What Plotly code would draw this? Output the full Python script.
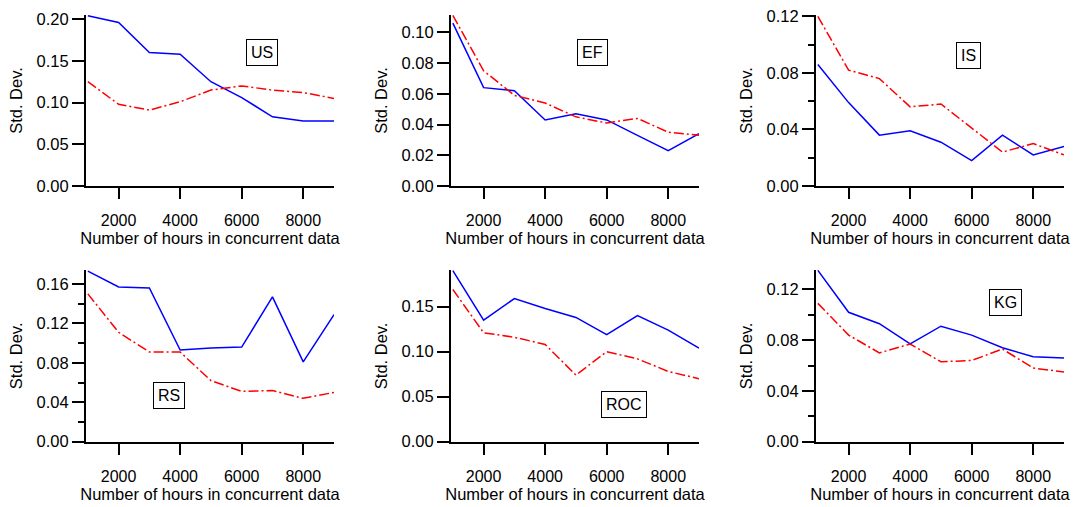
import plotly.graph_objects as go

hours = [1000, 2000, 3000, 4000, 5000, 6000, 7000, 8000, 9000]

us_blue = [0.204, 0.196, 0.160, 0.158, 0.125, 0.106, 0.083, 0.078, 0.078]
us_red = [0.125, 0.098, 0.091, 0.101, 0.115, 0.120, 0.115, 0.112, 0.105]

ef_blue = [0.106, 0.064, 0.062, 0.043, 0.047, 0.043, 0.033, 0.023, 0.034]
ef_red = [0.111, 0.075, 0.059, 0.054, 0.045, 0.041, 0.044, 0.035, 0.033]

is_blue = [0.086, 0.059, 0.036, 0.039, 0.031, 0.018, 0.036, 0.022, 0.028]
is_red = [0.120, 0.082, 0.076, 0.056, 0.058, 0.041, 0.024, 0.030, 0.022]

rs_blue = [0.173, 0.157, 0.156, 0.093, 0.095, 0.096, 0.147, 0.081, 0.129]
rs_red = [0.150, 0.111, 0.091, 0.091, 0.062, 0.051, 0.052, 0.044, 0.050]

roc_blue = [0.190, 0.135, 0.159, 0.148, 0.138, 0.119, 0.140, 0.124, 0.104]
roc_red = [0.169, 0.121, 0.116, 0.108, 0.074, 0.100, 0.092, 0.078, 0.070]

kg_blue = [0.135, 0.102, 0.093, 0.077, 0.091, 0.084, 0.074, 0.067, 0.066]
kg_red = [0.109, 0.084, 0.070, 0.077, 0.063, 0.064, 0.073, 0.058, 0.055]

labels = ["US", "EF", "IS", "RS", "ROC", "KG"]
x_ticks = [2000, 4000, 6000, 8000]

panels = [
    # label, blue, red, ymax, dtick, minor dtick, label pos (paper)
    ("US", us_blue, us_red, 0.205, 0.05, None, (0.2437, 0.8955)),
    ("EF", ef_blue, ef_red, 0.1113, 0.02, None, (0.5516, 0.8955)),
    ("IS", is_blue, is_red, 0.121, 0.04, 0.02, (0.9005, 0.8915)),
    ("RS", rs_blue, rs_red, 0.1742, 0.04, 0.02, (0.1572, 0.2209)),
    ("ROC", roc_blue, roc_red, 0.1907, 0.05, None, (0.5805, 0.2012)),
    ("KG", kg_blue, kg_red, 0.1353, 0.04, 0.02, (0.9358, 0.4043)),
]

W, H = 1075, 507
col_px = [(86, 334), (451, 699), (816, 1064)]
row_px = [(15, 186), (270, 441.7)]

FONT = "Liberation Sans, Arial, sans-serif"
fig = go.Figure()
layout = dict(
    width=W, height=H,
    margin=dict(l=0, r=0, t=0, b=0, autoexpand=False),
    paper_bgcolor="white", plot_bgcolor="white",
    showlegend=False,
    font=dict(family=FONT, size=16, color="black"),
    annotations=[],
)

for i, (lab, blue, red, ymax, dt, mdt, pos) in enumerate(panels):
    r, c = divmod(i, 3)
    n = i + 1
    xa = "x" if n == 1 else f"x{n}"
    ya = "y" if n == 1 else f"y{n}"
    fig.add_trace(go.Scatter(x=hours, y=blue, mode="lines", xaxis=xa, yaxis=ya,
                             line=dict(color="#0000FF", width=1.5)))
    fig.add_trace(go.Scatter(x=hours, y=red, mode="lines", xaxis=xa, yaxis=ya,
                             line=dict(color="#FF0000", width=1.5, dash="10px,3px,2px,3px")))
    x0, x1 = col_px[c]
    y0, y1 = row_px[r]
    xkey = "xaxis" if n == 1 else f"xaxis{n}"
    ykey = "yaxis" if n == 1 else f"yaxis{n}"
    layout[xkey] = dict(
        domain=[x0 / W, x1 / W], anchor=ya, range=[940, 9000], automargin=False,
        tickvals=x_ticks, ticks="outside", ticklen=11, tickwidth=2, tickcolor="black",
        showline=True, linewidth=2, linecolor="black", showgrid=False, zeroline=False,
        ticklabelstandoff=8,
        title=dict(text="Number of hours in concurrent data", standoff=4,
                   font=dict(size=16.5)),
        tickfont=dict(size=16),
    )
    yd = dict(
        domain=[1 - y1 / H, 1 - y0 / H], anchor=xa, range=[0, ymax], automargin=False,
        dtick=dt, tick0=0, tickformat=".2f", ticks="outside", ticklen=12, tickwidth=2,
        tickcolor="black", showline=True, linewidth=2, linecolor="black",
        showgrid=False, zeroline=False,
        title=dict(text="Std. Dev.", standoff=10, font=dict(size=16.5)),
        tickfont=dict(size=16.5),
    )
    if mdt:
        yd["minor"] = dict(dtick=mdt, tick0=0, ticks="outside", ticklen=6,
                           tickwidth=2, tickcolor="black", showgrid=False)
    layout[ykey] = yd
    layout["annotations"].append(dict(
        text=lab, x=pos[0], y=pos[1], xref="paper", yref="paper",
        xanchor="center", yanchor="middle", showarrow=False,
        bordercolor="black", borderwidth=1, borderpad=4, bgcolor="white",
        font=dict(size=16)))

fig.update_layout(**layout)
fig.write_html("out.html", config={"displayModeBar": False},
               post_script="document.body.style.margin='0';document.body.style.overflow='hidden';")
